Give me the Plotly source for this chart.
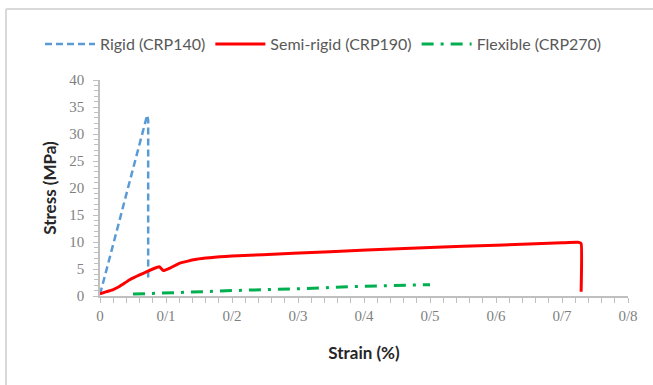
import plotly.graph_objects as go

# ---- data ----
rigid_x = [0.0, 0.01, 0.02, 0.03, 0.04, 0.05, 0.06, 0.0715, 0.073, 0.073]
rigid_y = [0.3, 4.8, 9.5, 14.2, 18.9, 23.6, 28.3, 33.5, 32.5, 3.3]

semi_x = [0.0, 0.01, 0.02, 0.03, 0.045, 0.06, 0.071, 0.08, 0.09, 0.096, 0.105,
          0.121, 0.146, 0.2, 0.293, 0.404, 0.5, 0.6, 0.7, 0.724, 0.729, 0.729]
semi_y = [0.4, 0.8, 1.2, 1.8, 3.0, 3.9, 4.5, 5.0, 5.4, 4.7, 5.1,
          6.1, 6.8, 7.4, 7.9, 8.5, 9.0, 9.4, 9.85, 9.95, 9.7, 0.8]

flex_x = [0.05, 0.1, 0.2, 0.3, 0.4, 0.5]
flex_y = [0.35, 0.6, 1.0, 1.35, 1.8, 2.1]

x_tickvals = [0, 0.1, 0.2, 0.3, 0.4, 0.5, 0.6, 0.7, 0.8]
x_ticktext = ["0", "0/1", "0/2", "0/3", "0/4", "0/5", "0/6", "0/7", "0/8"]
y_tickvals = [0, 5, 10, 15, 20, 25, 30, 35, 40]

fig = go.Figure()
fig.add_trace(go.Scatter(x=rigid_x, y=rigid_y, mode="lines", name="Rigid (CRP140)",
                         line=dict(color="#5B9BD5", width=2.5, dash="7px,4px")))
fig.add_trace(go.Scatter(x=semi_x, y=semi_y, mode="lines", name="Semi-rigid (CRP190)",
                         line=dict(color="#FF0000", width=3, shape="spline", smoothing=0.3)))
fig.add_trace(go.Scatter(x=flex_x, y=flex_y, mode="lines", name="Flexible (CRP270)",
                         line=dict(color="#00B050", width=3, dash="12px,7px,3px,7px")))

L, R, T, B = 100, 25, 80, 89
W, H = 653, 385
pw, ph = W - L - R, H - T - B

def px2x(px):
    return (px - L) / pw

def py2y(py):
    return (H - B - py) / ph

fig.update_layout(
    width=W, height=H,
    margin=dict(l=L, r=R, t=T, b=B, autoexpand=False),
    paper_bgcolor="white", plot_bgcolor="white",
    font=dict(family="Lato", color="#595959"),
    showlegend=True,
    legend=dict(orientation="h", x=px2x(40), xanchor="left", y=py2y(44), yanchor="middle",
                font=dict(family="Lato", size=16, color="#595959"),
                itemwidth=50, tracegroupgap=0, bgcolor="rgba(0,0,0,0)"),
    xaxis=dict(range=[0, 0.8], tickvals=x_tickvals, ticktext=x_ticktext,
               showgrid=False, zeroline=False, showline=True, linecolor="#BFBFBF", linewidth=1.5,
               ticks="outside", ticklen=5, tickcolor="#BFBFBF",
               minor=dict(dtick=0.02, ticks="outside", ticklen=5, tickcolor="#BFBFBF", showgrid=False),
               tickfont=dict(family="Liberation Serif", size=15, color="#7F7F7F"),
               title=dict(text="<b>Strain (%)</b>", font=dict(family="Lato", size=17, color="#262626"),
                          standoff=24)),
    yaxis=dict(range=[0, 40], tickvals=y_tickvals,
               showgrid=False, zeroline=False, showline=True, linecolor="#BFBFBF", linewidth=1.5,
               ticks="outside", ticklen=5, tickcolor="#BFBFBF",
               minor=dict(dtick=1, ticks="outside", ticklen=4, tickcolor="#BFBFBF", showgrid=False),
               tickfont=dict(family="Liberation Serif", size=15, color="#7F7F7F"),
               ticklabelstandoff=6,
               title=dict(text="<b>Stress (MPa)</b>", font=dict(family="Lato", size=17, color="#262626"),
                          standoff=8)),
    shapes=[
        dict(type="line", xref="paper", yref="paper", x0=px2x(6), x1=px2x(700), y0=py2y(9), y1=py2y(9),
             line=dict(color="#D9D9D9", width=2)),
        dict(type="line", xref="paper", yref="paper", x0=px2x(6), x1=px2x(6), y0=py2y(9), y1=py2y(400),
             line=dict(color="#D9D9D9", width=2)),
    ],
)

fig.write_html("out.html")
